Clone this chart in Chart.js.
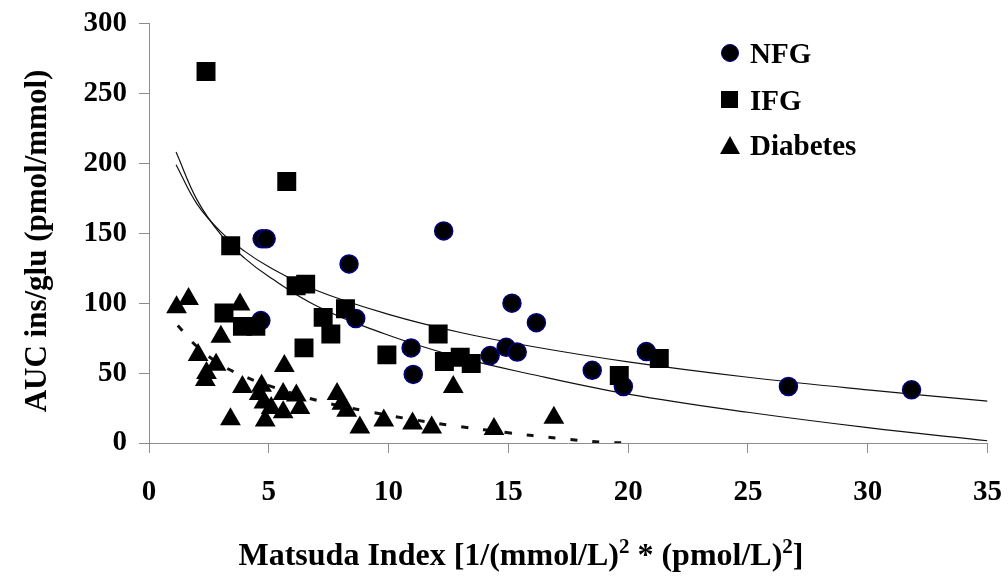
<!DOCTYPE html>
<html>
<head>
<meta charset="utf-8">
<script src="https://cdn.jsdelivr.net/npm/chart.js@4/dist/chart.umd.min.js"></script>
<style>
  html, body { margin: 0; padding: 0; background: #fff; }
  #wrap { position: relative; width: 1008px; height: 578px; overflow: hidden; font-family: "Liberation Serif", "Times New Roman", serif; font-weight: bold; color: #000; }
  #grafico { position: absolute; left: 0; top: -6px; }
  #legend { position: absolute; left: 720px; top: 30px; font-size: 29px; }
  .item { position: absolute; left: 0; height: 30px; white-space: nowrap; }
  .item span.lbl { position: absolute; left: 30px; top: 0; line-height: 30px; }
  .mk { position: absolute; }
  .circle { left: 1px; top: 6px; width: 18px; height: 18px; border-radius: 50%; background: #000; border: 1.5px solid #000080; box-sizing: border-box; }
  .square { left: 1px; top: 6px; width: 17px; height: 17px; background: #000; }
  .tri { left: 0; top: 6px; width: 0; height: 0; border-left: 10px solid transparent; border-right: 10px solid transparent; border-bottom: 18px solid #000; }
  #tituloX { position: absolute; left: 221px; width: 600px; top: 536px; text-align: center; font-size: 32px; line-height: 36px; white-space: nowrap; }
  #tituloX sup { font-size: 21px; line-height: 0; vertical-align: 12px; }
  #tituloY { position: absolute; left: 36px; top: 241px; width: 400px; margin-left: -200px; margin-top: -18px; text-align: center; font-size: 31px; line-height: 36px; white-space: nowrap; transform: rotate(-90deg); }
</style>
</head>
<body>
<div id="wrap">
  <canvas id="grafico" width="1024" height="584"></canvas>
  <div id="tituloY">AUC ins/glu (pmol/mmol)</div>
  <div id="tituloX">Matsuda Index [1/(mmol/L)<sup>2</sup> * (pmol/L)<sup>2</sup>]</div>
  <div id="legend">
    <div class="item" style="top:8px"><div class="mk circle"></div><span class="lbl">NFG</span></div>
    <div class="item" style="top:55px"><div class="mk square"></div><span class="lbl">IFG</span></div>
    <div class="item" style="top:100px"><div class="mk tri"></div><span class="lbl">Diabetes</span></div>
  </div>
</div>
<script>
// Valores
const nfgX = [4.72, 4.89, 4.67, 8.35, 8.63, 10.94, 11.03, 12.3, 14.24, 14.91, 15.37, 15.15, 16.17, 18.5, 19.8, 20.76, 26.69, 31.83];
const nfgY = [146, 146, 87.5, 128, 89, 68, 49, 151.6, 62.5, 68.4, 65, 100, 86, 52, 40.4, 65.4, 40.4, 38];

const ifgX = [2.38, 5.75, 3.41, 6.14, 6.54, 3.13, 3.9, 4.46, 7.27, 8.2, 7.59, 6.47, 9.93, 12.07, 12.33, 12.99, 13.45, 19.63, 21.3];
const ifgY = [265.6, 187, 141, 112.4, 113.6, 93, 83.4, 83.4, 89.8, 96, 78, 68, 63, 78, 58.2, 61.3, 56.8, 48.3, 60.4];

const diaX = [1.15, 1.65, 2.05, 2.8, 2.4, 2.35, 3.0, 3.8, 3.9, 3.4, 4.7, 4.6, 4.8, 4.85, 5.1, 5.65, 5.6, 5.6, 6.15, 6.3, 7.85, 8.05, 8.25, 8.8, 9.8, 11.0, 11.8, 12.7, 14.4, 16.9];
const diaY = [97, 103, 63, 56, 50, 45, 76, 99, 40, 17, 41, 35, 29, 16, 25, 55, 35, 22, 34, 25, 35, 28, 23, 11, 16, 14, 11, 40, 10, 18];

// Líneas de tendencia (puntos leídos a lo largo de cada curva)
const curvaAX = [1.13, 2, 3, 4, 5, 7, 10, 13, 16, 20, 25, 30, 35];
const curvaAY = [199, 171, 151, 137, 126, 109, 92, 79, 69, 58, 47, 38, 30];
const curvaBX = [1.13, 2, 3, 4, 5, 7, 10, 13, 16, 20, 25, 30, 35];
const curvaBY = [208, 174, 149, 132, 119, 98, 77, 61, 49, 35, 22, 11, 1.6];
const curvaDX = [1.2, 2, 3, 4, 5, 7, 9, 11, 13, 15, 17, 19, 20.1];
const curvaDY = [84, 69, 56, 47.5, 41, 30.5, 23, 16.8, 11.7, 7.3, 3.5, 0.5, 0];

const ticksX = [0, 5, 10, 15, 20, 25, 30, 35];
const ticksY = [0, 50, 100, 150, 200, 250, 300];

function puntos(xs, ys) {
    return xs.map((x, i) => ({ x: x, y: ys[i] }));
}

const fuente = "'Liberation Serif', 'Times New Roman', serif";
const gris = "#8c8c8c";

function curva(xs, ys, dash, ancho) {
    return {
        type: "scatter",
        data: puntos(xs, ys),
        showLine: true,
        borderColor: "#111",
        borderWidth: ancho,
        borderDash: dash,
        pointRadius: 0,
        tension: 0.4,
        fill: false,
        order: 3
    };
}

new Chart(document.getElementById("grafico").getContext("2d"), {
    type: "scatter",
    data: {
        datasets: [
            {
                label: "Diabetes",
                data: puntos(diaX, diaY),
                pointStyle: "triangle",
                pointRadius: 12,
                backgroundColor: "#000",
                borderColor: "#000",
                borderWidth: 0,
                order: 0
            },
            {
                label: "IFG",
                data: puntos(ifgX, ifgY),
                pointStyle: "rect",
                pointRadius: 13.4,
                backgroundColor: "#000",
                borderColor: "#000",
                borderWidth: 0,
                order: 1
            },
            {
                label: "NFG",
                data: puntos(nfgX, nfgY),
                pointStyle: "circle",
                pointRadius: 9,
                backgroundColor: "#000",
                borderColor: "#000080",
                borderWidth: 1.5,
                order: 2
            },
            curva(curvaAX, curvaAY, [], 1.2),
            curva(curvaBX, curvaBY, [], 1.2),
            curva(curvaDX, curvaDY, [7, 15], 3)
        ]
    },
    options: {
        responsive: false,
        animation: false,
        layout: { padding: { top: 16, right: 0, left: 0, bottom: 0 } },
        plugins: {
            legend: { display: false },
            tooltip: { enabled: false }
        },
        scales: {
            x: {
                type: "linear",
                min: 0,
                max: 35,
                afterBuildTicks: function (scale) {
                    scale.ticks = ticksX.map(v => ({ value: v }));
                },
                afterFit: function (scale) { scale.height = 135; },
                ticks: {
                    color: "#000",
                    padding: 22,
                    font: { family: fuente, size: 29, weight: "bold" }
                },
                grid: { drawOnChartArea: false, drawTicks: true, tickLength: 10, color: gris },
                border: { color: gris, width: 1 },
                title: { display: false }
            },
            y: {
                type: "linear",
                min: 0,
                max: 300,
                afterBuildTicks: function (scale) {
                    scale.ticks = ticksY.map(v => ({ value: v }));
                },
                afterFit: function (scale) { scale.width = 149; },
                ticks: {
                    color: "#000",
                    padding: 12,
                    font: { family: fuente, size: 29, weight: "bold" }
                },
                grid: { drawOnChartArea: false, drawTicks: true, tickLength: 10, color: gris },
                border: { color: gris, width: 1 },
                title: { display: false }
            }
        }
    }
});
</script>
</body>
</html>
